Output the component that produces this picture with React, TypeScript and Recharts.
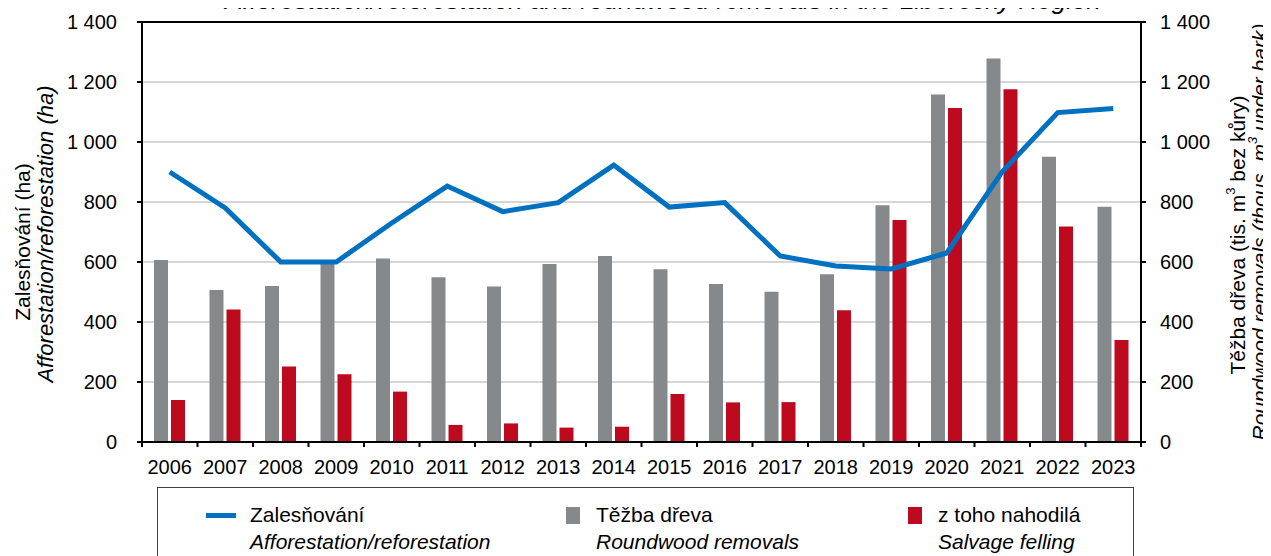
import React from 'react'
import {
  ComposedChart, Bar, Line, XAxis, YAxis, CartesianGrid, ReferenceLine,
} from 'recharts'

// ====== data ======
const years = [
  '2006', '2007', '2008', '2009', '2010', '2011', '2012', '2013', '2014',
  '2015', '2016', '2017', '2018', '2019', '2020', '2021', '2022', '2023',
]
// Zalesňování (ha)
const afforestation = [900, 780, 600, 600, 730, 853, 768, 798, 923, 783, 798, 620, 587, 577, 630, 901, 1098, 1112]
// Těžba dřeva (tis. m3 bez kůry)
const roundwood = [607, 507, 520, 596, 612, 549, 518, 593, 620, 576, 527, 501, 559, 789, 1158, 1278, 951, 784]
// z toho nahodilá
const salvage = [140, 442, 252, 226, 168, 57, 62, 48, 51, 160, 132, 133, 439, 740, 1113, 1176, 718, 340]

const yTicks = [0, 200, 400, 600, 800, 1000, 1200, 1400]

const title = 'Afforestation/reforestation and roundwood removals in the Liberecký Region'
const leftTitle = ['Zalesňování (ha)', 'Afforestation/reforestation (ha)']
const legendItems = [
  { key: 'afforestation', cz: 'Zalesňování', en: 'Afforestation/reforestation', color: '#0070C0', kind: 'line' },
  { key: 'roundwood', cz: 'Těžba dřeva', en: 'Roundwood removals', color: '#86898C', kind: 'box' },
  { key: 'salvage', cz: 'z toho nahodilá', en: 'Salvage felling', color: '#BE0A1E', kind: 'box' },
]

const data = years.map((year, i) => ({
  year,
  afforestation: afforestation[i],
  roundwood: roundwood[i],
  salvage: salvage[i],
}))

const FONT = '"Liberation Sans", Arial, sans-serif'
const TICK_SIZE = 5
const X_TICK_MARGIN = 13

const fmt = (v: number) => {
  if (v < 1000) return String(v)
  return `${Math.floor(v / 1000)} ${String(v % 1000).padStart(3, '0')}`
}

// ticks between categories (Excel style)
function XTick(props: any) {
  const { x, y, payload, index } = props
  const half = payload && payload.offset ? payload.offset : 27.75
  const top = y - TICK_SIZE - X_TICK_MARGIN
  return (
    <g>
      <line x1={x - half} x2={x - half} y1={top} y2={top + TICK_SIZE} stroke="#000" strokeWidth={2} />
      {index === years.length - 1 && (
        <line x1={x + half} x2={x + half} y1={top} y2={top + TICK_SIZE} stroke="#000" strokeWidth={2} />
      )}
      <text x={x} y={y} dy="0.72em" textAnchor="middle" fontSize={20} fontFamily={FONT} fill="#000">
        {payload.value}
      </text>
    </g>
  )
}

function LeftLabel(props: any) {
  const { viewBox } = props
  const cy = viewBox.y + viewBox.height / 2
  return (
    <g fontFamily={FONT} fill="#000">
      <text x={22} y={cy + 10} fontSize={21} textAnchor="middle" dominantBaseline="central" transform={`rotate(-90 22 ${cy + 10})`}>
        {leftTitle[0]}
      </text>
      <text x={45} y={cy + 2} fontSize={22} textAnchor="middle" dominantBaseline="central" fontStyle="italic" transform={`rotate(-90 45 ${cy + 2})`}>
        {leftTitle[1]}
      </text>
    </g>
  )
}

function RightLabel(props: any) {
  const { viewBox } = props
  const cy = viewBox.y + viewBox.height / 2
  return (
    <g fontFamily={FONT} fill="#000">
      <text x={1237} y={cy + 3} fontSize={21} textAnchor="middle" dominantBaseline="central" transform={`rotate(-90 1237 ${cy + 3})`}>
        Těžba dřeva (tis. m<tspan dy={-7} fontSize={13}>3</tspan><tspan dy={7}> bez kůry)</tspan>
      </text>
      <text x={1259} y={cy} fontSize={21} textAnchor="middle" dominantBaseline="central" fontStyle="italic" transform={`rotate(-90 1259 ${cy})`}>
        Roundwood removals (thous. m<tspan dy={-7} fontSize={13}>3</tspan><tspan dy={7}> under bark)</tspan>
      </text>
    </g>
  )
}

function LegendBox() {
  const xs = [206, 566, 908]
  return (
    <div style={{
      position: 'absolute', left: 157, top: 487, width: 977, height: 90,
      border: '1px solid #404040', boxSizing: 'border-box', background: '#fff',
      fontFamily: FONT, fontSize: 21, color: '#000',
    }}>
      {legendItems.map((it, i) => (
        <div key={it.key} style={{ position: 'absolute', left: xs[i] - 158, top: 13 }}>
          {it.kind === 'line'
            ? <div style={{ position: 'absolute', left: 0, top: 12, width: 30, height: 5, background: it.color }} />
            : <div style={{ position: 'absolute', left: 0, top: 6, width: 14, height: 17, background: it.color }} />}
          <div style={{ position: 'absolute', left: it.kind === 'line' ? 44 : 30, top: 0, whiteSpace: 'nowrap', lineHeight: '27px' }}>
            <div>{it.cz}</div>
            <div style={{ fontStyle: 'italic' }}>{it.en}</div>
          </div>
        </div>
      ))}
    </div>
  )
}

export default function App() {
  return (
    <div style={{ position: 'relative', width: 1271, height: 556, margin: '-8px 0 0 -8px', overflow: 'hidden', background: '#fff' }}>
      <div style={{
        position: 'absolute', left: 0, width: 1326, top: -13, textAlign: 'center',
        fontFamily: FONT, fontSize: 26, lineHeight: '26px', fontStyle: 'italic', color: '#000', whiteSpace: 'nowrap',
      }}>
        {title}
      </div>
      <ComposedChart
        width={1271}
        height={556}
        data={data}
        margin={{ top: 22, right: 0, bottom: 0, left: 0 }}
        barSize={14}
        barGap={3}
        style={{ position: 'absolute', left: 0, top: 0 }}
      >
        <CartesianGrid yAxisId="left" vertical={false} stroke="#C8C8C8" strokeWidth={1.5} />
        <XAxis
          dataKey="year"
          height={114}
          interval={0}
          tickLine={false}
          tickSize={TICK_SIZE}
          tickMargin={X_TICK_MARGIN}
          tick={<XTick />}
          axisLine={{ stroke: '#000', strokeWidth: 2 }}
        />
        <YAxis
          yAxisId="left"
          width={142}
          domain={[0, 1400]}
          ticks={yTicks}
          tickFormatter={fmt}
          tickSize={TICK_SIZE}
          tickMargin={20}
          tick={{ fontSize: 20, fill: '#000', fontFamily: FONT }}
          tickLine={{ stroke: '#000', strokeWidth: 2 }}
          axisLine={{ stroke: '#000', strokeWidth: 2 }}
          label={<LeftLabel />}
        />
        <YAxis
          yAxisId="right"
          orientation="right"
          width={130}
          domain={[0, 1400]}
          ticks={yTicks}
          tickFormatter={fmt}
          tickSize={TICK_SIZE}
          tickMargin={14}
          tick={{ fontSize: 20, fill: '#000', fontFamily: FONT }}
          tickLine={{ stroke: '#000', strokeWidth: 2 }}
          axisLine={{ stroke: '#000', strokeWidth: 2 }}
          label={<RightLabel />}
        />
        <ReferenceLine yAxisId="left" y={1400} stroke="#000" strokeWidth={2} />
        <Bar yAxisId="right" dataKey="roundwood" fill="#86898C" isAnimationActive={false} />
        <Bar yAxisId="right" dataKey="salvage" fill="#BE0A1E" isAnimationActive={false} />
        <Line
          yAxisId="left"
          type="linear"
          dataKey="afforestation"
          stroke="#0070C0"
          strokeWidth={5}
          dot={false}
          activeDot={false}
          isAnimationActive={false}
        />
      </ComposedChart>
      <LegendBox />
    </div>
  )
}
